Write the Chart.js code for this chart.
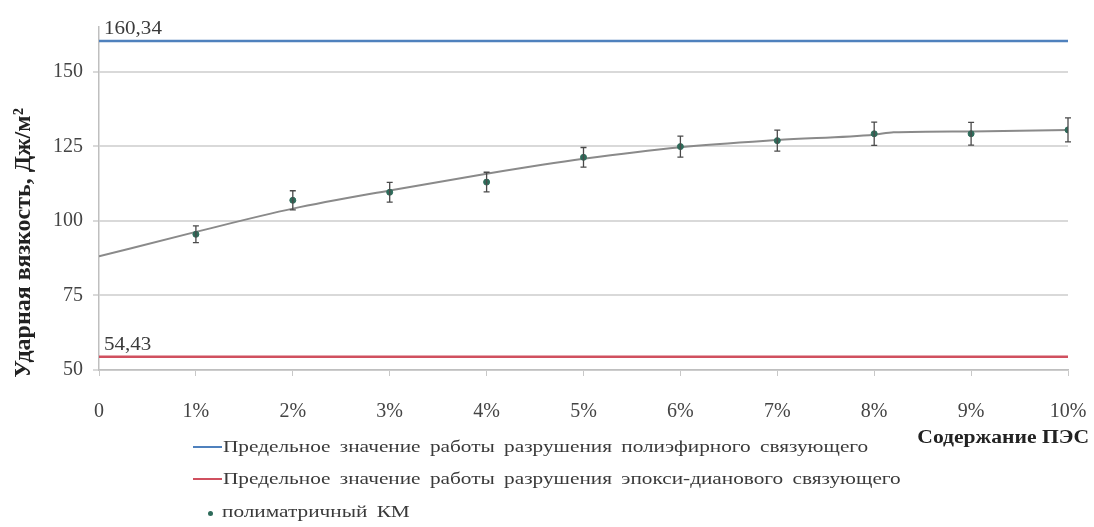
<!DOCTYPE html>
<html>
<head>
<meta charset="utf-8">
<script src="https://cdn.jsdelivr.net/npm/chart.js@4/dist/chart.umd.min.js"></script>
<style>
  html, body { margin:0; padding:0; background:#fff; }
  #wrap { position:relative; width:1094px; height:527px; }
  canvas { position:absolute; left:0; top:0; }
  .leg { position:absolute; left:193px; font-family:"Liberation Serif", serif; font-size:16px; color:#3a3a3a; white-space:nowrap; word-spacing:3px; }
  .leg .mk { display:inline-block; width:29px; height:0; border-top:2px solid; vertical-align:middle; margin-right:1px; position:relative; top:-1px; }
  .leg .dot { display:inline-block; width:5px; height:5px; border-radius:50%; background:#2e6b5a; margin-left:15px; margin-right:9px; vertical-align:middle; }
  .leg .tx { display:inline-block; transform:scaleX(1.33); transform-origin:0 50%; }
</style>
</head>
<body>
<div id="wrap">
  <canvas id="c" width="1094" height="527"></canvas>
  <div class="leg" style="top:438px;"><span class="mk" style="border-color:#4F81BD"></span><span class="tx" id="l1"></span></div>
  <div class="leg" style="top:470px;"><span class="mk" style="border-color:#D0505F"></span><span class="tx" id="l2"></span></div>
  <div class="leg" style="top:503px;"><span class="dot"></span><span class="tx" id="l3"></span></div>
</div>
<script>
// ---- data ----
const xTickLabels = ["0","1%","2%","3%","4%","5%","6%","7%","8%","9%","10%"];
const pointX = [1,2,3,4,5,6,7,8,9,10];
const pointY = [95.5,106.9,109.6,113.0,121.3,124.9,126.9,129.2,129.2,130.5];
const pointErr = [2.8,3.2,3.3,3.3,3.3,3.5,3.5,3.9,3.8,4.0];
const trendX = [0,1,2,3,4,5,6,7,8,8.2,9,10];
const trendY = [88.1,96.3,104.1,110.2,115.8,120.8,124.7,127.1,128.9,129.7,130.0,130.5];
const limitPolyester = 160.34;
const limitEpoxy = 54.43;
const limitLabels = ["160,34","54,43"];
const seriesNames = [
  "Предельное значение работы разрушения полиэфирного связующего",
  "Предельное значение работы разрушения эпокси-дианового связующего",
  "полиматричный КМ"
];
const yTitle = "Ударная вязкость, Дж/м²";
const xTitle = "Содержание ПЭС";
const yTicks = [50,75,100,125,150];

document.getElementById('l1').textContent = seriesNames[0];
document.getElementById('l2').textContent = seriesNames[1];
document.getElementById('l3').textContent = seriesNames[2];

const serif = '"Liberation Serif", "Times New Roman", serif';

const extras = {
  id: 'extras',
  afterDatasetsDraw(chart) {
    const ctx = chart.ctx;
    const xs = chart.scales.x, ys = chart.scales.y;
    // error bars
    ctx.save();
    ctx.strokeStyle = '#4a4a4a';
    ctx.lineWidth = 1.3;
    pointX.forEach((xv, i) => {
      const px = xs.getPixelForValue(xv);
      const y1 = ys.getPixelForValue(pointY[i] + pointErr[i]);
      const y2 = ys.getPixelForValue(pointY[i] - pointErr[i]);
      ctx.beginPath();
      ctx.moveTo(px, y1); ctx.lineTo(px, y2);
      ctx.moveTo(px - 3, y1); ctx.lineTo(px + 3, y1);
      ctx.moveTo(px - 3, y2); ctx.lineTo(px + 3, y2);
      ctx.stroke();
    });
    ctx.restore();
    // limit value labels
    const x0 = xs.getPixelForValue(0) + 5;
    [[limitLabels[0], limitPolyester], [limitLabels[1], limitEpoxy]].forEach(([t, v]) => {
      ctx.save();
      ctx.fillStyle = '#3a3a3a';
      ctx.font = '18px ' + serif;
      ctx.textAlign = 'left';
      ctx.textBaseline = 'bottom';
      ctx.translate(x0, ys.getPixelForValue(v) - 3);
      ctx.scale(1.17, 1);
      ctx.fillText(t, 0, 0);
      ctx.restore();
    });
  },
  afterDraw(chart) {
    const ctx = chart.ctx;
    ctx.save();
    ctx.fillStyle = '#222';
    ctx.font = 'bold 18px ' + serif;
    ctx.textAlign = 'right';
    ctx.textBaseline = 'middle';
    ctx.translate(1089, 438);
    ctx.scale(1.2, 1);
    ctx.fillText(xTitle, 0, 0);
    ctx.restore();
    ctx.save();
    ctx.fillStyle = '#222';
    ctx.font = 'bold 24px ' + serif;
    ctx.translate(24, 243);
    ctx.rotate(-Math.PI / 2);
    ctx.textAlign = 'center';
    ctx.textBaseline = 'middle';
    ctx.fillText(yTitle, 0, 0);
    ctx.restore();
  }
};

new Chart(document.getElementById('c'), {
  type: 'scatter',
  data: {
    datasets: [
      {
        label: seriesNames[2],
        data: pointX.map((x, i) => ({x, y: pointY[i]})),
        backgroundColor: '#2e6b5a',
        borderColor: '#2e6b5a',
        pointRadius: 3,
        order: 0
      },
      {
        label: 'trend',
        data: trendX.map((x, i) => ({x, y: trendY[i]})),
        showLine: true,
        borderColor: '#8a8a8a',
        borderWidth: 2,
        pointRadius: 0,
        cubicInterpolationMode: 'monotone',
        order: 1
      },
      {
        label: seriesNames[0],
        data: [{x: 0, y: limitPolyester}, {x: 10, y: limitPolyester}],
        showLine: true,
        borderColor: '#4F81BD',
        borderWidth: 2.5,
        pointRadius: 0,
        order: 2
      },
      {
        label: seriesNames[1],
        data: [{x: 0, y: limitEpoxy}, {x: 10, y: limitEpoxy}],
        showLine: true,
        borderColor: '#D0505F',
        borderWidth: 2.5,
        pointRadius: 0,
        order: 2
      }
    ]
  },
  options: {
    responsive: false,
    animation: false,
    events: [],
    layout: { padding: { top: 27, right: 26, left: 0, bottom: 0 } },
    plugins: { legend: { display: false }, tooltip: { enabled: false } },
    scales: {
      x: {
        type: 'linear',
        min: 0, max: 10,
        afterBuildTicks: s => { s.ticks = xTickLabels.map((_, i) => ({value: i})); },
        afterFit: s => { s.height = 157; s.paddingLeft = 0; s.paddingRight = 0; },
        ticks: {
          callback: (v, i) => xTickLabels[i],
          font: { family: serif, size: 20 },
          color: '#444',
          padding: 24,
          maxRotation: 0,
          autoSkip: false
        },
        grid: { drawOnChartArea: false, drawTicks: true, tickLength: 6, color: '#c8c8c8' },
        border: { color: '#bfbfbf', width: 1.5 }
      },
      y: {
        min: 50, max: 165,
        afterBuildTicks: s => { s.ticks = yTicks.map(v => ({value: v})); },
        afterFit: s => { s.width = 99; s.paddingTop = 0; s.paddingBottom = 0; },
        ticks: {
          font: { family: serif, size: 20 },
          color: '#444',
          padding: 10
        },
        grid: { color: '#d9d9d9', lineWidth: 2, tickLength: 6 },
        border: { color: '#bfbfbf', width: 1.5 }
      }
    }
  },
  plugins: [extras]
});
</script>
</body>
</html>
